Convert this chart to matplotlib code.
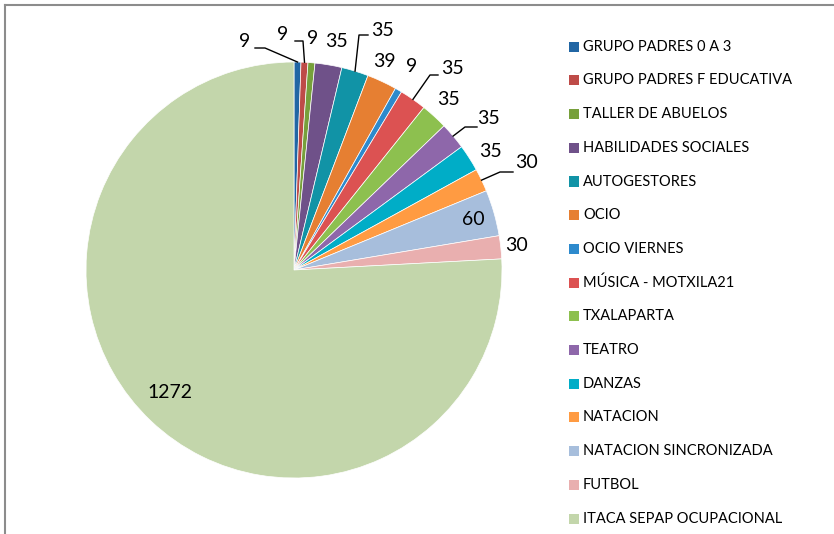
import numpy as np
import matplotlib
matplotlib.use("Agg")
import matplotlib.pyplot as plt
from matplotlib.patches import Rectangle
from matplotlib.lines import Line2D

categories = ["GRUPO PADRES 0 A 3", "GRUPO PADRES F EDUCATIVA", "TALLER DE ABUELOS",
              "HABILIDADES SOCIALES", "AUTOGESTORES", "OCIO", "OCIO VIERNES",
              "MÚSICA - MOTXILA21", "TXALAPARTA", "TEATRO", "DANZAS", "NATACION",
              "NATACION SINCRONIZADA", "FUTBOL", "ITACA SEPAP OCUPACIONAL"]
values = [9, 9, 9, 35, 35, 39, 9, 35, 35, 35, 35, 30, 60, 30, 1272]
colors = ['#2166A4', '#BE4B48', '#77A03B', '#6F5189', '#1193A6', '#E67F32', '#2D8ACD',
          '#DC5252', '#8DC04F', '#8E67AA', '#00ADC7', '#FF9B42', '#A7BEDC', '#E9AFAF', '#C3D6AB']

W, H = 834, 534
fig = plt.figure(figsize=(W / 100, H / 100), dpi=100)
plt.rcParams['font.family'] = ['Lato', 'DejaVu Sans']

# pie geometry in pixels
CX, CY, R = 294, 270, 208
half = 1.25 * R
ax = fig.add_axes([(CX - half) / W, (H - CY - half) / H, 2 * half / W, 2 * half / H])

wedges, _ = ax.pie(values, colors=colors, startangle=90, counterclock=False,
                   radius=1.0, wedgeprops=dict(edgecolor='white', linewidth=0.5))
ax.set_xlim(-1.25, 1.25)
ax.set_ylim(-1.25, 1.25)
ax.set_aspect('equal')
ax.axis('off')

def px(p):
    return ((p[0] - CX) / R, (CY - p[1]) / R)

# label layout (pixel positions)
label_px = [(245, 42), (283, 35), (313, 39), (337, 42), (383, 30), (384, 62), (412, 67),
            (452, 69), (448, 100), (488, 119), (490, 152), (526, 163), (473, 220),
            (517, 246), (170, 393)]
leaders = {0: [(265, 48), (255, 48)], 1: [(303, 41), (295, 41)], 4: [(359, 35), (368, 35)],
           7: [(430, 75), (438, 75)], 9: [(465, 127), (477, 127)], 11: [(500, 172), (513, 172)]}

total = float(sum(values))
cum = np.cumsum([0] + values[:-1])
for i, v in enumerate(values):
    mid = 90 - 360 * (cum[i] + v / 2) / total
    x, y = px(label_px[i])
    ax.text(x, y, str(v), ha='center', va='center', fontsize=14, color='#000000')
    if i in leaders:
        sx, sy = np.cos(np.radians(mid)), np.sin(np.radians(mid))
        pts = [(sx, sy)] + [px(p) for p in leaders[i]]
        ax.add_line(Line2D([p[0] for p in pts], [p[1] for p in pts], color='black', lw=1.0))

# legend (manual)
y0, dy = 46.7, 33.7
for i, (name, c) in enumerate(zip(categories, colors)):
    yc = y0 + i * dy
    fig.patches.append(Rectangle((569 / W, 1 - (yc + 5) / H), 10 / W, 10 / H,
                                 transform=fig.transFigure, facecolor=c, edgecolor='none'))
    fig.text(583 / W, 1 - yc / H, name, ha='left', va='center', fontsize=10.5, color='#000000')

# chart frame (top and left edges visible)
fig.add_artist(Line2D([4.5 / W, 1], [1 - 4.5 / H, 1 - 4.5 / H], transform=fig.transFigure,
                      color='#8C8C8C', lw=1.5))
fig.add_artist(Line2D([4.5 / W, 4.5 / W], [0, 1 - 4.5 / H], transform=fig.transFigure,
                      color='#8C8C8C', lw=1.5))

fig.savefig('out.png', dpi=100)
